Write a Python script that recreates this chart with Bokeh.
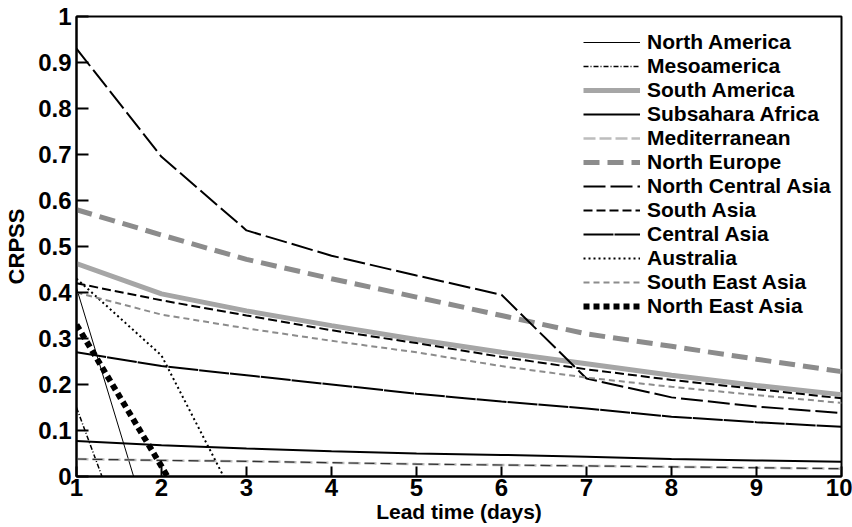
from bokeh.plotting import figure
from bokeh.models import Range1d, FixedTicker, CustomJSTickFormatter, Legend, LegendItem
from bokeh.embed import file_html
from bokeh.resources import INLINE

days = [1, 2, 3, 4, 5, 6, 7, 8, 9, 10]

north_america = [0.41, -0.20]
mesoamerica = [0.15, -0.35]
south_america = [0.463, 0.397, 0.36, 0.328, 0.298, 0.27, 0.245, 0.22, 0.198, 0.178]
subsahara_africa = [0.077, 0.068, 0.061, 0.055, 0.05, 0.047, 0.043, 0.038, 0.035, 0.032]
mediterranean = [0.038, 0.035, 0.033, 0.03, 0.027, 0.025, 0.023, 0.021, 0.019, 0.017]
north_europe = [0.58, 0.525, 0.472, 0.43, 0.39, 0.35, 0.31, 0.283, 0.255, 0.228]
north_central_asia = [0.93, 0.695, 0.535, 0.48, 0.437, 0.395, 0.213, 0.172, 0.152, 0.138]
south_asia = [0.42, 0.383, 0.35, 0.318, 0.29, 0.26, 0.233, 0.21, 0.19, 0.17]
central_asia = [0.27, 0.24, 0.22, 0.20, 0.18, 0.163, 0.148, 0.13, 0.118, 0.108]
australia = [0.43, 0.263, -0.097]
south_east_asia = [0.40, 0.352, 0.322, 0.295, 0.27, 0.24, 0.215, 0.195, 0.177, 0.16]
north_east_asia = [0.33, 0.022, -0.29]

x_ticks = [1, 2, 3, 4, 5, 6, 7, 8, 9, 10]
y_ticks = [0, 0.1, 0.2, 0.3, 0.4, 0.5, 0.6, 0.7, 0.8, 0.9, 1.0]

FONT = "Liberation Sans"

p = figure(width=852, height=527, output_backend="svg", toolbar_location=None,
           x_range=Range1d(1, 10), y_range=Range1d(0, 1),
           min_border_left=76, min_border_right=11, min_border_top=16, min_border_bottom=51)
p.grid.visible = False
p.outline_line_color = "black"
p.outline_line_width = 2
p.outline_line_alpha = 1

for ax in (p.xaxis[0], p.yaxis[0]):
    ax.axis_line_width = 2
    ax.axis_line_color = "black"
    ax.major_tick_in = 10
    ax.major_tick_out = 0
    ax.major_tick_line_width = 2
    ax.minor_tick_line_color = None
    ax.major_label_text_font = FONT
    ax.major_label_text_font_style = "bold"
    ax.major_label_text_font_size = "24px"
    ax.major_label_text_color = "black"
    ax.axis_label_text_font = FONT
    ax.axis_label_text_font_style = "bold"
    ax.axis_label_text_font_size = "21px"
    ax.axis_label_text_color = "black"

p.yaxis.major_tick_in = 12
p.xaxis.ticker = FixedTicker(ticks=x_ticks)
p.yaxis.ticker = FixedTicker(ticks=y_ticks)
p.yaxis.formatter = CustomJSTickFormatter(code="return tick.toFixed(1).replace(/\\.0$/, '');")
p.xaxis.axis_label = "Lead time (days)"
p.yaxis.axis_label = "CRPSS"
p.yaxis.axis_label_text_font_size = "22px"
p.xaxis.major_label_standoff = 2
p.xaxis.axis_label_standoff = 1
p.yaxis.major_label_standoff = 5
p.yaxis.axis_label_standoff = 6

def n(vals):
    return days[:len(vals)]

items = []
r = p.line(n(north_america), north_america, line_color="black", line_width=1)
items.append(("North America", r))
r = p.line(n(mesoamerica), mesoamerica, line_color="black", line_width=1.5, line_dash="5 2 1 2")
items.append(("Mesoamerica", r))
r = p.line(n(south_america), south_america, line_color="#a6a6a6", line_width=5)
items.append(("South America", r))
r = p.line(n(subsahara_africa), subsahara_africa, line_color="black", line_width=2)
items.append(("Subsahara Africa", r))
r = p.line(n(mediterranean), mediterranean, line_color="#bdbdbd", line_width=2.5, line_dash="12 4")
p.line(n(mediterranean), mediterranean, line_color="#333333", line_width=1.2, line_dash="10 6")
items.append(("Mediterranean", r))
r = p.line(n(north_europe), north_europe, line_color="#8c8c8c", line_width=5, line_dash="16 8")
items.append(("North Europe", r))
r = p.line(n(north_central_asia), north_central_asia, line_color="black", line_width=2, line_dash="22 5")
items.append(("North Central Asia", r))
r = p.line(n(south_asia), south_asia, line_color="black", line_width=2, line_dash="9 4")
items.append(("South Asia", r))
r = p.line(n(central_asia), central_asia, line_color="black", line_width=2, line_dash="30 1")
items.append(("Central Asia", r))
r = p.line(n(australia), australia, line_color="black", line_width=2, line_dash="2 3")
items.append(("Australia", r))
r = p.line(n(south_east_asia), south_east_asia, line_color="#8c8c8c", line_width=2, line_dash="6 4")
items.append(("South East Asia", r))
r = p.line(n(north_east_asia), north_east_asia, line_color="black", line_width=6, line_dash="6 4")
items.append(("North East Asia", r))

legend = Legend(items=[LegendItem(label=l, renderers=[rr]) for l, rr in items],
                location=(507, 158), padding=0, margin=0, spacing=0,
                glyph_width=57, glyph_height=20, label_height=20, label_standoff=7,
                label_text_font=FONT, label_text_font_style="bold",
                label_text_font_size="21px", label_text_color="black",
                border_line_color=None, background_fill_alpha=0)
p.add_layout(legend, "center")

open("out.html", "w").write(file_html(p, INLINE))
